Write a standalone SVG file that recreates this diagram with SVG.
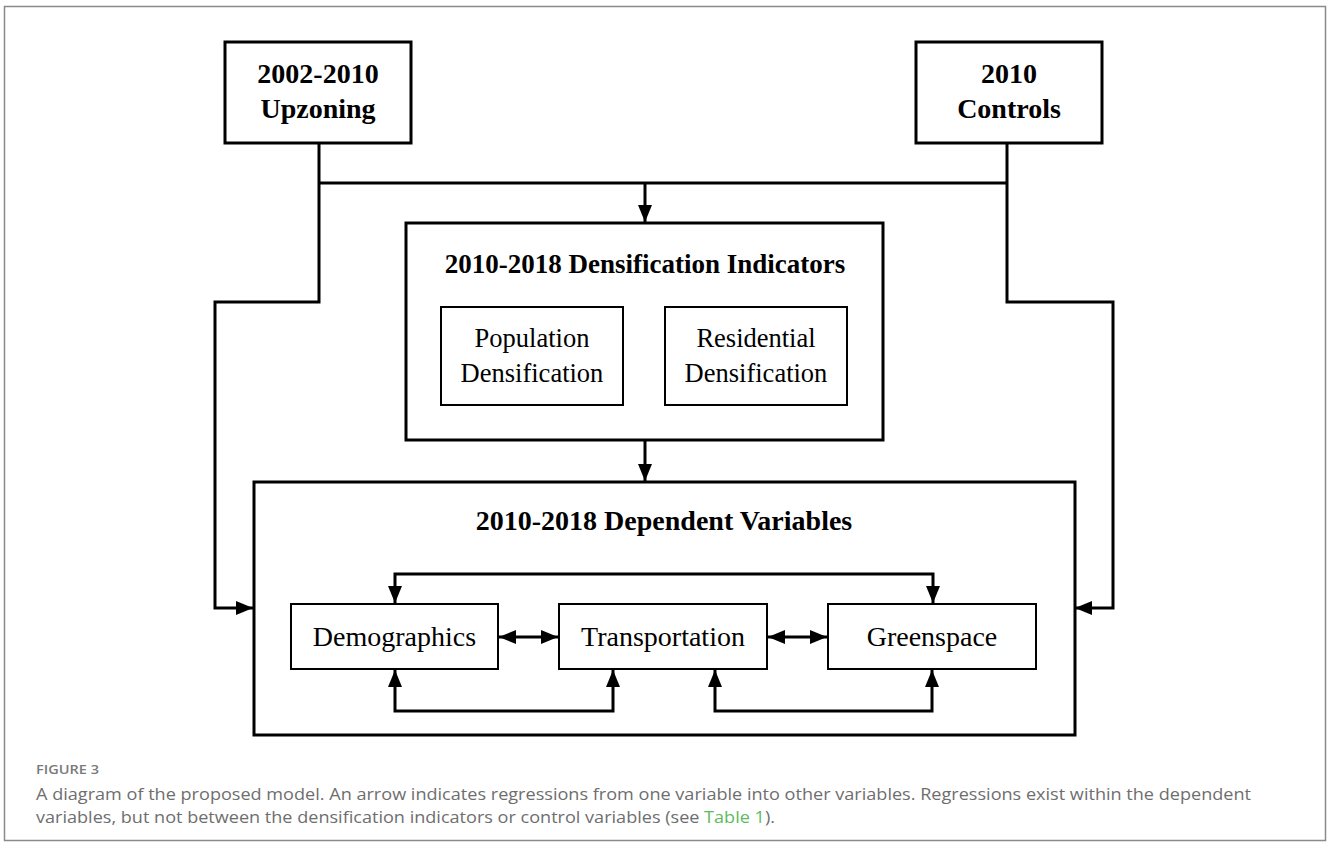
<svg xmlns="http://www.w3.org/2000/svg" width="1327" height="845" viewBox="0 0 1327 845">
  <style>
    .box { fill: #ffffff; stroke: #000000; stroke-width: 3; }
    .ibox { fill: #ffffff; stroke: #000000; stroke-width: 2; }
    .conn { fill: none; stroke: #000000; stroke-width: 3; }
    .tb { font-family: "Liberation Serif", "Times New Roman", serif; font-weight: bold; fill: #000; text-anchor: middle; }
    .tr { font-family: "Liberation Serif", "Times New Roman", serif; fill: #000; text-anchor: middle; }
    .cap { font-family: "Open Sans", "Lato", sans-serif; fill: #6e6e6e; font-size: 16.5px; }
    .fig { font-family: "Open Sans", "Lato", sans-serif; fill: #7a7a7a; font-size: 12px; font-weight: 600; }
    .link { fill: #5dbb5d; }
  </style>
  <defs>
    <marker id="ah" markerUnits="userSpaceOnUse" markerWidth="18" markerHeight="14" viewBox="0 0 18 14" refX="17" refY="7" orient="auto-start-reverse">
      <path d="M0,0 L17,7 L0,14 Z" fill="#000"/>
    </marker>
  </defs>

  <rect id="frame" x="4.5" y="6.5" width="1321" height="834" fill="#ffffff" stroke="#8a8a8a" stroke-width="1.5"/>

  <g id="upzoning">
    <rect class="box" x="225" y="42" width="186" height="101"/>
    <text class="tb" x="318" y="83" font-size="28">2002-2010</text>
    <text class="tb" x="318" y="118" font-size="28">Upzoning</text>
  </g>

  <g id="controls">
    <rect class="box" x="916" y="42" width="186" height="101"/>
    <text class="tb" x="1009" y="83" font-size="28">2010</text>
    <text class="tb" x="1009" y="118" font-size="28">Controls</text>
  </g>

  <g id="densification">
    <rect class="box" x="406" y="223" width="477" height="217"/>
    <text class="tb" x="645" y="273" font-size="27">2010-2018 Densification Indicators</text>
  </g>

  <g id="population">
    <rect class="ibox" x="441" y="307" width="182" height="98"/>
    <text class="tr" x="532" y="347" font-size="26.5">Population</text>
    <text class="tr" x="532" y="382" font-size="26.5">Densification</text>
  </g>

  <g id="residential">
    <rect class="ibox" x="665" y="307" width="182" height="98"/>
    <text class="tr" x="756" y="347" font-size="26.5">Residential</text>
    <text class="tr" x="756" y="382" font-size="26.5">Densification</text>
  </g>

  <g id="dependent">
    <rect class="box" x="254" y="482" width="821" height="253"/>
    <text class="tb" x="664" y="530" font-size="28">2010-2018 Dependent Variables</text>
  </g>

  <g id="demographics">
    <rect class="ibox" x="291" y="604" width="207" height="65"/>
    <text class="tr" x="394.5" y="646" font-size="28">Demographics</text>
  </g>

  <g id="transportation">
    <rect class="ibox" x="559" y="604" width="208" height="65"/>
    <text class="tr" x="663" y="646" font-size="28">Transportation</text>
  </g>

  <g id="greenspace">
    <rect class="ibox" x="828" y="604" width="208" height="65"/>
    <text class="tr" x="932" y="646" font-size="28">Greenspace</text>
  </g>

  <g id="connectors">
    <path class="conn" d="M319,143 V302 H215 V608 H253" marker-end="url(#ah)"/>
    <path class="conn" d="M1007,143 V302 H1113 V608 H1075" marker-end="url(#ah)"/>
    <path class="conn" d="M319,183 H1007"/>
    <path class="conn" d="M645,183 V222" marker-end="url(#ah)"/>
    <path class="conn" d="M645,440 V481" marker-end="url(#ah)"/>
    <path class="conn" d="M395,603 V574 H933 V603" marker-start="url(#ah)" marker-end="url(#ah)"/>
    <path class="conn" d="M395,670 V711 H613 V670" marker-start="url(#ah)" marker-end="url(#ah)"/>
    <path class="conn" d="M715,670 V711 H932 V670" marker-start="url(#ah)" marker-end="url(#ah)"/>
    <path class="conn" d="M499,637 H558" marker-start="url(#ah)" marker-end="url(#ah)"/>
    <path class="conn" d="M768,637 H827" marker-start="url(#ah)" marker-end="url(#ah)"/>
  </g>

  <g id="caption">
    <text class="fig" x="36" y="774" textLength="63" lengthAdjust="spacingAndGlyphs">FIGURE 3</text>
    <text class="cap" x="36" y="800" textLength="1215" lengthAdjust="spacingAndGlyphs">A diagram of the proposed model. An arrow indicates regressions from one variable into other variables. Regressions exist within the dependent</text>
    <text class="cap" x="36" y="823" textLength="739" lengthAdjust="spacingAndGlyphs">variables, but not between the densification indicators or control variables (see <tspan class="link">Table 1</tspan>).</text>
  </g>
</svg>
